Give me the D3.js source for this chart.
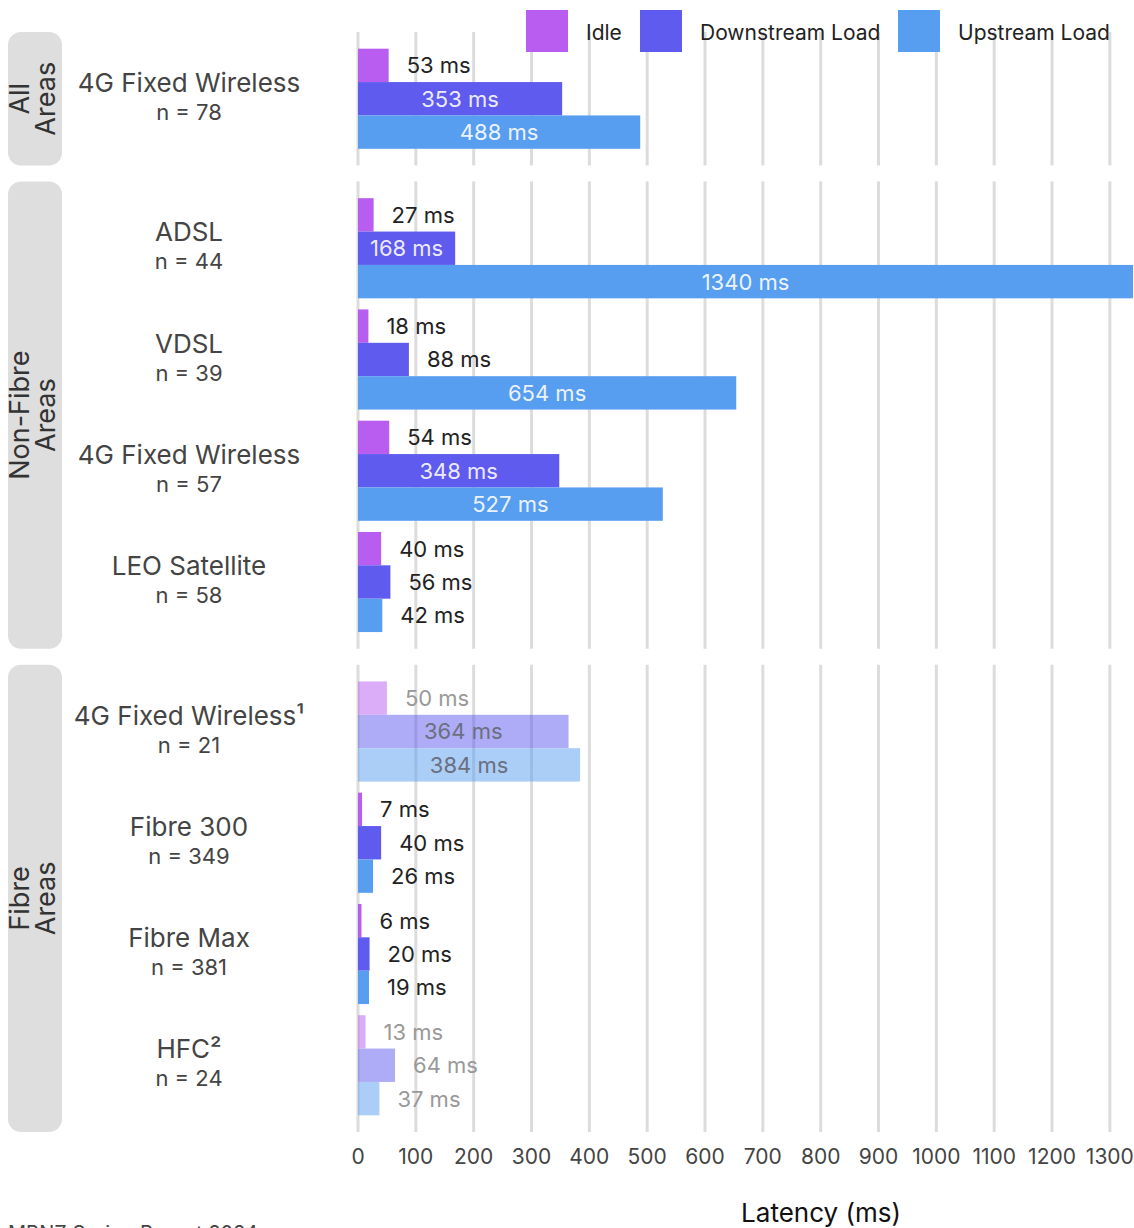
<!DOCTYPE html>
<html lang="en">
<head>
<meta charset="utf-8">
<title>Latency by technology</title>
<script src="https://cdn.jsdelivr.net/npm/d3@7"></script>
<style>
  body { margin: 0; background: #fff; }
  svg { font-family: Inter, "Noto Sans", sans-serif; }
</style>
</head>
<body>
<script>
// panels and the technologies shown in each
var panels = ["All Areas", "Non-Fibre Areas", "Fibre Areas"];
var panelLines = [["All", "Areas"], ["Non-Fibre", "Areas"], ["Fibre", "Areas"]];
var techs = [
  ["4G Fixed Wireless"],
  ["ADSL", "VDSL", "4G Fixed Wireless", "LEO Satellite"],
  ["4G Fixed Wireless\u00b9", "Fibre 300", "Fibre Max", "HFC\u00b2"]
];
var samples = [[78], [44, 39, 57, 58], [21, 349, 381, 24]];
var faded = [[false], [false, false, false, false], [true, false, false, true]];

// latency values (ms)
var idle = [[53], [27, 18, 54, 40], [50, 7, 6, 13]];
var downstream = [[353], [168, 88, 348, 56], [364, 40, 20, 64]];
var upstream = [[488], [1340, 654, 527, 42], [384, 26, 19, 37]];

var series = ["Idle", "Downstream Load", "Upstream Load"];
var colors = ["#b95cf0", "#5f5bef", "#589ef0"];
var xTicks = [0, 100, 200, 300, 400, 500, 600, 700, 800, 900, 1000, 1100, 1200, 1300];

var w = 1134, h = 1228;
var svg = d3.select("body").append("svg")
  .attr("width", w).attr("height", h);

var x = d3.scaleLinear().domain([0, 1340]).range([358, 1133]);
var color = d3.scaleOrdinal().domain(series).range(colors);

// vertical layout of the panels
var top0 = 32, bottom0 = 1132, gap = 16;
var units = techs.map(function(t) { return t.length + 0.2; });
var unit = (bottom0 - top0 - gap * (panels.length - 1)) / d3.sum(units);
var py = top0;
var panelRanges = units.map(function(u) {
  var r = [py, py + u * unit];
  py = r[1] + gap;
  return r;
});

panels.forEach(function(p, pi) {
  var g = svg.append("g");
  var r = panelRanges[pi];

  // grid
  g.selectAll("line.grid")
    .data(xTicks)
    .enter().append("line")
    .attr("x1", function(d) { return x(d); })
    .attr("x2", function(d) { return x(d); })
    .attr("y1", r[0]).attr("y2", r[1])
    .attr("stroke", "#dcdcdc").attr("stroke-width", 3);

  // strip
  g.append("rect")
    .attr("x", 8).attr("y", r[0])
    .attr("width", 54).attr("height", r[1] - r[0])
    .attr("rx", 13).attr("fill", "#dedede");
  var cy = (r[0] + r[1]) / 2;
  var st = g.append("text")
    .attr("transform", "translate(33," + cy + ") rotate(-90)")
    .attr("text-anchor", "middle")
    .attr("font-size", 27).attr("fill", "#333");
  panelLines[pi].forEach(function(line, li) {
    st.append("tspan").attr("x", 0).attr("y", li === 0 ? -4 : 22).text(line);
  });

  var y = d3.scaleBand().domain(techs[pi]).range(r)
    .paddingInner(0.1).paddingOuter(0.15);
  var ys = d3.scaleBand().domain(series).range([0, y.bandwidth()]);

  techs[pi].forEach(function(t, ti) {
    var fade = faded[pi][ti];
    var vals = [idle[pi][ti], downstream[pi][ti], upstream[pi][ti]];
    var rows = series.map(function(s, si) { return { s: s, v: vals[si] }; });
    var c = y(t) + y.bandwidth() / 2;

    // category label
    g.append("text")
      .attr("x", 189).attr("y", c - 7)
      .attr("text-anchor", "middle")
      .attr("font-size", 26).attr("fill", "#444")
      .text(t);
    g.append("text")
      .attr("x", 189).attr("y", c + 21)
      .attr("text-anchor", "middle")
      .attr("font-size", 22).attr("fill", "#444")
      .text("n = " + samples[pi][ti]);

    var bg = g.append("g").attr("opacity", fade ? 0.5 : 1);
    bg.selectAll("rect")
      .data(rows)
      .enter().append("rect")
      .attr("x", x(0))
      .attr("y", function(d) { return y(t) + ys(d.s); })
      .attr("width", function(d) { return x(d.v) - x(0); })
      .attr("height", ys.bandwidth())
      .attr("fill", function(d) { return color(d.s); });

    // value labels
    g.selectAll("text.v" + pi + "_" + ti)
      .data(rows)
      .enter().append("text")
      .attr("font-size", 22)
      .attr("y", function(d) { return y(t) + ys(d.s) + ys.bandwidth() / 2; })
      .attr("dy", "0.36em")
      .text(function(d) { return d.v + " ms"; })
      .each(function(d) {
        var el = d3.select(this);
        var tw = this.getComputedTextLength();
        var bw = x(d.v) - x(0);
        if (bw > tw + 12) {
          el.attr("x", x(0) + bw / 2).attr("text-anchor", "middle")
            .attr("fill", fade ? "#6b6f80" : "#fff")
            .attr("fill-opacity", fade ? 1 : 0.9);
        } else {
          el.attr("x", x(d.v) + 18).attr("text-anchor", "start")
            .attr("fill", fade ? "#999" : "#222");
        }
      });
  });
});

// x axis tick labels
svg.selectAll("text.tick")
  .data(xTicks)
  .enter().append("text")
  .attr("x", function(d) { return x(d); })
  .attr("y", 1164)
  .attr("text-anchor", "middle")
  .attr("font-size", 21).attr("fill", "#444")
  .text(function(d) { return d; });

svg.append("text")
  .attr("x", 821).attr("y", 1222)
  .attr("text-anchor", "middle")
  .attr("font-size", 26).attr("fill", "#111")
  .text("Latency (ms)");

svg.append("text")
  .attr("x", 8).attr("y", 1240)
  .attr("font-size", 20).attr("fill", "#444")
  .text("MBNZ Spring Report 2024");

// legend
var legendX = [526, 640, 898];
var leg = svg.selectAll("g.legend")
  .data(series)
  .enter().append("g")
  .attr("transform", function(d, i) { return "translate(" + legendX[i] + ",10)"; });
leg.append("rect")
  .attr("width", 42).attr("height", 42)
  .attr("fill", function(d) { return color(d); });
leg.append("text")
  .attr("x", 60).attr("y", 30)
  .attr("font-size", 21).attr("fill", "#222")
  .text(function(d) { return d; });
</script>
</body>
</html>
